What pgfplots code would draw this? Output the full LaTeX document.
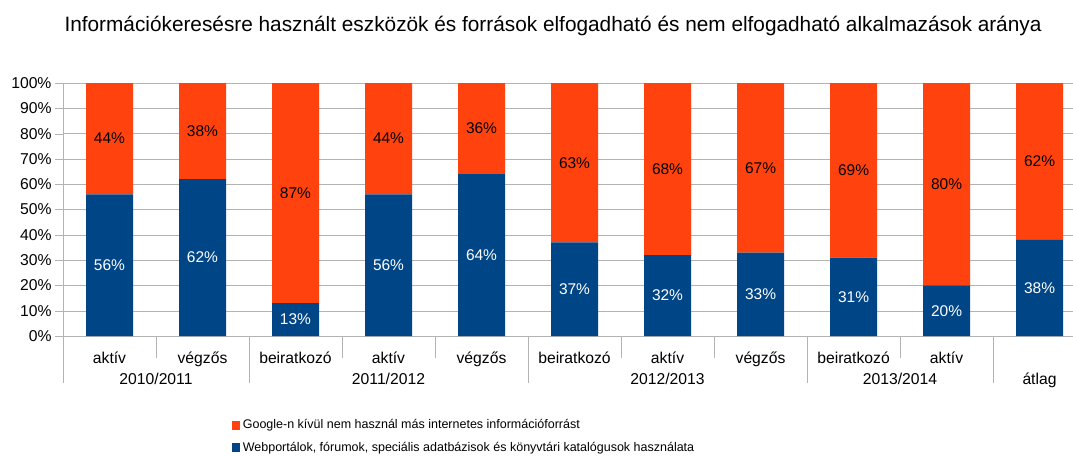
\documentclass[border=0pt]{standalone}
\usepackage{fontspec}
\setmainfont{Liberation Sans}
\usepackage{pgfplots}
\pgfplotsset{compat=1.18}
\definecolor{cblue}{HTML}{004586}
\definecolor{corange}{HTML}{FF420E}
\definecolor{gridgray}{HTML}{B3B3B3}
\begin{document}
\begin{tikzpicture}
\begin{axis}[
  at={(63pt,120pt)}, anchor=south west,
  scale only axis, width=1010pt, height=253pt,
  ybar stacked, bar width=47pt,
  xmin=-0.5, xmax=10.36, ymin=0, ymax=100,
  axis x line*=bottom, axis y line*=left,
  axis line style={draw=gridgray, -},
  ytick={0,10,...,100},
  yticklabels={0\%,10\%,20\%,30\%,40\%,50\%,60\%,70\%,80\%,90\%,100\%},
  xtick={0,...,10},
  xticklabels={aktív,végzős,beiratkozó,aktív,végzős,beiratkozó,aktív,végzős,beiratkozó,aktív,},
  xticklabel style={anchor=base, yshift=-19.5pt},
  ticklabel style={font=\fontsize{15.7}{18}\selectfont},
  xtick style={draw=none},
  ytick style={draw=gridgray},
  tick align=outside, major tick length=8pt,
  ymajorgrids, grid style={draw=gridgray},
  clip=false,
  visualization depends on={rawy \as \rawy},
  nodes near coords={\pgfmathprintnumber[assume math mode=true,fixed,precision=0]{\rawy}\%},
  every node near coord/.append style={anchor=center, font=\fontsize{15.5}{18}\selectfont},
  reverse legend,
  legend style={at={(0.164,-0.318)}, anchor=north west, draw=none, fill=none,
    font=\fontsize{12.5}{15}\selectfont, row sep=10pt,
    nodes={inner sep=1pt}},
  legend cell align=left,
  legend image code/.code={\fill[#1, draw=none] (0pt,-4.5pt) rectangle (8pt,4.5pt);},
]
\addplot[fill=cblue, draw=none, every node near coord/.append style={text=white}] coordinates {
(0,56) (1,62) (2,13) (3,56) (4,64) (5,37) (6,32) (7,33) (8,31) (9,20) (10,38)};
\addplot[fill=corange, draw=none, every node near coord/.append style={text=black}] coordinates {
(0,44) (1,38) (2,87) (3,44) (4,36) (5,63) (6,68) (7,67) (8,69) (9,80) (10,62)};
\legend{{\hspace{2pt}Webportálok, fórumok, speciális adatbázisok és könyvtári katalógusok használata}, {\hspace{2pt}Google-n kívül nem használ más internetes információforrást}}
% separators
\draw[gridgray] (axis cs:-0.5,0) -- ([yshift=-47pt]axis cs:-0.5,0);
\draw[gridgray] (axis cs:0.5,0) -- ([yshift=-22pt]axis cs:0.5,0);
\draw[gridgray] (axis cs:1.5,0) -- ([yshift=-47pt]axis cs:1.5,0);
\draw[gridgray] (axis cs:2.5,0) -- ([yshift=-22pt]axis cs:2.5,0);
\draw[gridgray] (axis cs:3.5,0) -- ([yshift=-22pt]axis cs:3.5,0);
\draw[gridgray] (axis cs:4.5,0) -- ([yshift=-47pt]axis cs:4.5,0);
\draw[gridgray] (axis cs:5.5,0) -- ([yshift=-22pt]axis cs:5.5,0);
\draw[gridgray] (axis cs:6.5,0) -- ([yshift=-22pt]axis cs:6.5,0);
\draw[gridgray] (axis cs:7.5,0) -- ([yshift=-47pt]axis cs:7.5,0);
\draw[gridgray] (axis cs:8.5,0) -- ([yshift=-22pt]axis cs:8.5,0);
\draw[gridgray] (axis cs:9.5,0) -- ([yshift=-47pt]axis cs:9.5,0);
% group labels
\node[anchor=base, font=\fontsize{15.7}{18}\selectfont, yshift=-48pt] at (axis cs:0.5,0) {2010/2011};
\node[anchor=base, font=\fontsize{15.7}{18}\selectfont, yshift=-48pt] at (axis cs:3,0) {2011/2012};
\node[anchor=base, font=\fontsize{15.7}{18}\selectfont, yshift=-48pt] at (axis cs:6,0) {2012/2013};
\node[anchor=base, font=\fontsize{15.7}{18}\selectfont, yshift=-48pt] at (axis cs:8.5,0) {2013/2014};
\node[anchor=base, font=\fontsize{15.7}{18}\selectfont, yshift=-48pt] at (axis cs:10,0) {átlag};
\end{axis}
\node[font=\fontsize{20.8}{24}\selectfont] at (553pt,430pt) {Információkeresésre használt eszközök és források elfogadható és nem elfogadható alkalmazások aránya};
\pgfresetboundingbox
\useasboundingbox (0,0) rectangle (1073pt,456pt);
\end{tikzpicture}
\end{document}
